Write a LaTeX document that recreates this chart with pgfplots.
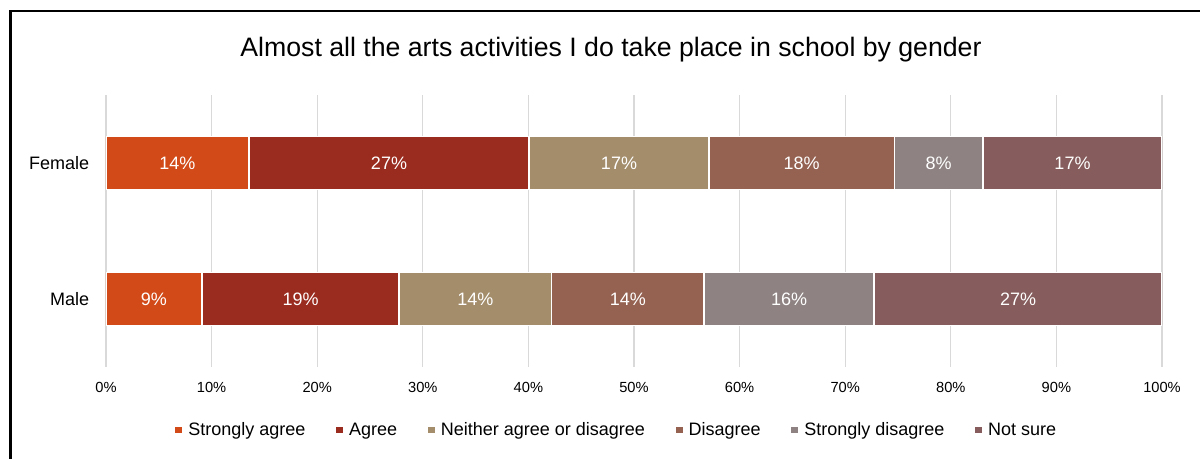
\documentclass[border=0pt]{standalone}
\usepackage{fontspec}
\setmainfont{Liberation Sans}
\usepackage{pgfplots}
\usepackage{pgfplotstable}
\pgfplotsset{compat=1.18}

\definecolor{cSA}{HTML}{D24A18}
\definecolor{cAG}{HTML}{9A2B1F}
\definecolor{cNE}{HTML}{A38D6B}
\definecolor{cDI}{HTML}{956251}
\definecolor{cSD}{HTML}{8E8382}
\definecolor{cNS}{HTML}{865D5C}
\definecolor{gridc}{HTML}{D9D9D9}

\pgfplotstableread{
cat sa ag ne di sd ns
0 9.09 18.66 14.45 14.45 16.10 27.25
1 13.54 26.52 17.04 17.55 8.40 16.95
}\data

\newcommand{\seg}[2]{%
  \addplot[fill=#2, draw=white, line width=1.2pt,
    visualization depends on={\thisrow{#1} \as \myval}]
    table[x=#1, y=cat] {\data};}

\begin{document}
\begin{tikzpicture}
\useasboundingbox (0,0) rectangle (900pt,-344.25pt);
\fill[white] (0,0) rectangle (900pt,-344.25pt);
\draw[line width=1.8pt] (8pt,-345pt) -- (8pt,-8.2pt) -- (901pt,-8.2pt);
\node[anchor=base, font=\fontsize{20pt}{24pt}\selectfont] at (458.25pt,-42.5pt)
  {Almost all the arts activities I do take place in school by gender};
\begin{axis}[
  at={(79.5pt,-275.25pt)}, anchor=south west,
  scale only axis, width=792pt, height=204pt,
  xbar stacked, bar width=39.75pt,
  xmin=0, xmax=100, ymin=-0.5, ymax=1.5,
  axis line style={draw=none},
  major tick length=0pt,
  xtick={0,10,...,100},
  xticklabel={\pgfmathprintnumber{\tick}\%},
  /pgf/number format/assume math mode=true,
  xticklabel style={font=\fontsize{11pt}{13pt}\selectfont, inner sep=0pt, anchor=north, yshift=-11pt},
  ytick={0,1}, yticklabels={Male,Female},
  yticklabel style={font=\fontsize{13.5pt}{16pt}\selectfont, inner sep=0pt, anchor=east, xshift=-12.5pt},
  xmajorgrids, ymajorgrids=false,
  grid style={gridc, line width=1pt},
  nodes near coords={\pgfmathprintnumber[fixed,precision=0]{\myval}\%},
  every node near coord/.append style={anchor=center,
     font=\fontsize{13.5pt}{16pt}\selectfont, text=white},
  legend columns=6,
  legend style={draw=none, fill=none, at={(0.484,-0.2316)}, anchor=center,
     font=\fontsize{13.5pt}{16pt}\selectfont,
     /tikz/every odd column/.append style={column sep=2.5pt},
     /tikz/every even column/.append style={column sep=21pt}},
  legend image code/.code={\fill[#1, draw=none] (0pt,-2.6pt) rectangle (5.25pt,2.6pt);},
]
\seg{sa}{cSA}
\seg{ag}{cAG}
\seg{ne}{cNE}
\seg{di}{cDI}
\seg{sd}{cSD}
\seg{ns}{cNS}
\legend{Strongly agree, Agree, Neither agree or disagree, Disagree, Strongly disagree, Not sure}
\end{axis}
\end{tikzpicture}
\end{document}
